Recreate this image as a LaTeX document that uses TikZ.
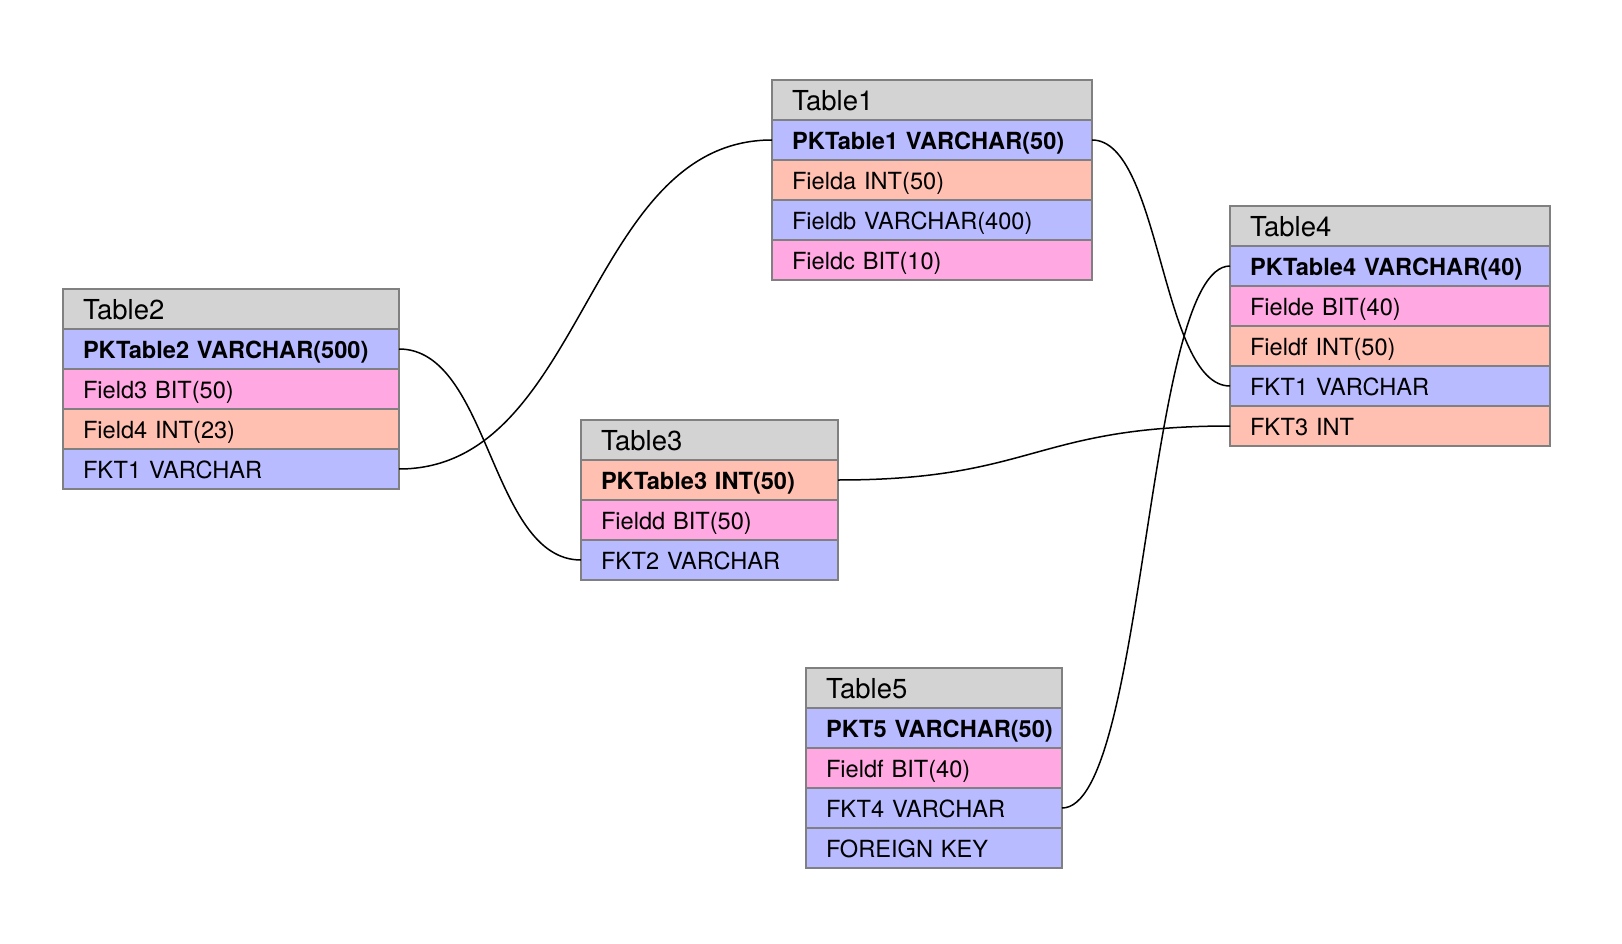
\documentclass[tikz,border=0pt]{standalone}
\usepackage{fontspec}
\setmainfont{TeX Gyre Heros}
\usepackage{tikz}
\usetikzlibrary{positioning,calc}
\definecolor{headfill}{RGB}{211,211,211}
\definecolor{bluefill}{RGB}{184,187,255}
\definecolor{pinkfill}{RGB}{255,168,226}
\definecolor{salmonfill}{RGB}{255,192,178}
\definecolor{celledge}{RGB}{128,128,128}

\begin{document}
\begin{tikzpicture}[
  x=1pt, y=-1pt,
  font=\fontsize{23.6}{27}\selectfont,
  cell/.style ={draw=celledge, line width=1.5pt, inner xsep=20pt, inner ysep=0pt,
                outer sep=0pt, minimum height=40pt, align=left,
                text height=19pt, text depth=0pt,
                execute at begin node={\hbox\bgroup}, execute at end node={\egroup}},
  head/.style ={cell, fill=headfill, anchor=north west, text height=20.5pt,
                font=\fontsize{27.5}{30}\selectfont},
  bluerow/.style  ={cell, fill=bluefill},
  pinkrow/.style  ={cell, fill=pinkfill},
  salmonrow/.style={cell, fill=salmonfill},
  key/.style  ={font=\fontsize{23.6}{27}\selectfont\bfseries},
  link/.style ={draw=black, line width=1.5pt,
                to path={.. controls ($(\tikztostart)!0.5!(\tikztostart -| \tikztotarget)$)
                         and ($(\tikztotarget)!0.5!(\tikztotarget -| \tikztostart)$) .. (\tikztotarget)}},
]
\useasboundingbox (0,0) rectangle (1622,944);

% Table1
\begin{scope}[nodes={text width=280pt}]
\node[head]          (t1)   at (772,80) {Table1};
\node[bluerow,key]   (t1pk) [below=0pt of t1]   {PKTable1 VARCHAR(50)};
\node[salmonrow]     (t1a)  [below=0pt of t1pk] {Fielda INT(50)};
\node[bluerow]       (t1b)  [below=0pt of t1a]  {Fieldb VARCHAR(400)};
\node[pinkrow]       (t1c)  [below=0pt of t1b]  {Fieldc BIT(10)};
\end{scope}

% Table2
\begin{scope}[nodes={text width=296pt}]
\node[head]          (t2)   at (63,289) {Table2};
\node[bluerow,key]   (t2pk) [below=0pt of t2]   {PKTable2 VARCHAR(500)};
\node[pinkrow]       (t2f3) [below=0pt of t2pk] {Field3 BIT(50)};
\node[salmonrow]     (t2f4) [below=0pt of t2f3] {Field4 INT(23)};
\node[bluerow]       (t2fk) [below=0pt of t2f4] {FKT1 VARCHAR};
\end{scope}

% Table3
\begin{scope}[nodes={text width=217pt}]
\node[head]          (t3)   at (581,420) {Table3};
\node[salmonrow,key] (t3pk) [below=0pt of t3]   {PKTable3 INT(50)};
\node[pinkrow]       (t3d)  [below=0pt of t3pk] {Fieldd BIT(50)};
\node[bluerow]       (t3fk) [below=0pt of t3d]  {FKT2 VARCHAR};
\end{scope}

% Table4
\begin{scope}[nodes={text width=280pt}]
\node[head]          (t4)    at (1230,206) {Table4};
\node[bluerow,key]   (t4pk)  [below=0pt of t4]    {PKTable4 VARCHAR(40)};
\node[pinkrow]       (t4e)   [below=0pt of t4pk]  {Fielde BIT(40)};
\node[salmonrow]     (t4f)   [below=0pt of t4e]   {Fieldf INT(50)};
\node[bluerow]       (t4fk1) [below=0pt of t4f]   {FKT1 VARCHAR};
\node[salmonrow]     (t4fk3) [below=0pt of t4fk1] {FKT3 INT};
\end{scope}

% Table5
\begin{scope}[nodes={text width=216pt}]
\node[head]          (t5)   at (806,668) {Table5};
\node[bluerow,key]   (t5pk) [below=0pt of t5]   {PKT5 VARCHAR(50)};
\node[pinkrow]       (t5f)  [below=0pt of t5pk] {Fieldf BIT(40)};
\node[bluerow]       (t5fk) [below=0pt of t5f]  {FKT4 VARCHAR};
\node[bluerow]       (t5fo) [below=0pt of t5fk] {FOREIGN KEY};
\end{scope}

% relations
\draw[link] (t2fk.east)  to (t1pk.west);
\draw[link] (t2pk.east)  to (t3fk.west);
\draw[link] (t1pk.east)  to (t4fk1.west);
\draw[link] (t3pk.east)  to (t4fk3.west);
\draw[link] (t5fk.east)  to (t4pk.west);

\end{tikzpicture}
\end{document}
